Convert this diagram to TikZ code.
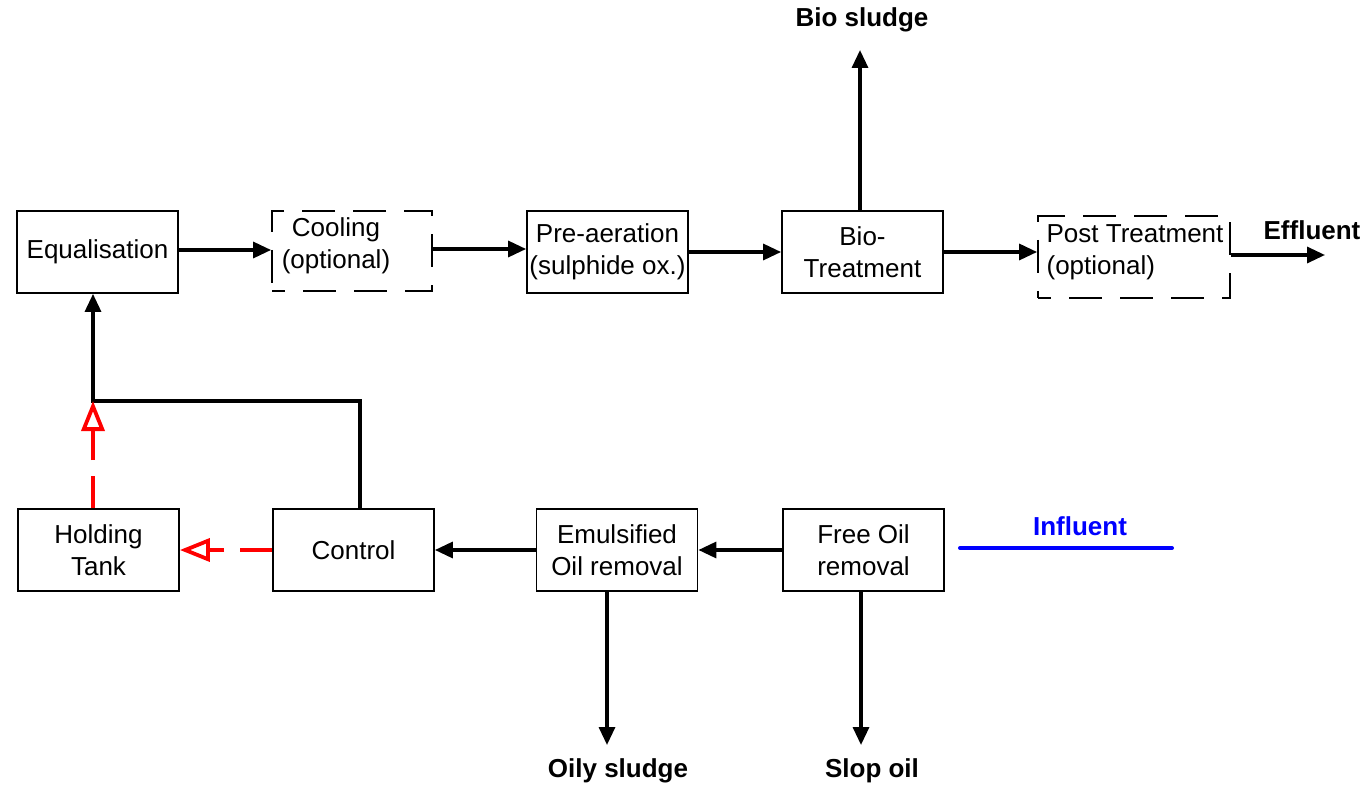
\documentclass[tikz,border=0pt]{standalone}
\usepackage{fontspec}
\setmainfont{Liberation Sans}
\usetikzlibrary{arrows.meta}
\begin{document}
\begin{tikzpicture}[x=1pt,y=-1pt,
 box/.style={draw, line width=1.8pt, minimum width=161pt, minimum height=82pt, inner sep=0pt, align=center, font=\fontsize{26}{32}\selectfont},
 dbox/.style={draw, line width=1.8pt, dash pattern=on 33pt off 18pt, dash phase=20pt, inner sep=0pt},
 flow/.style={line width=3.3pt, -{Triangle[length=18pt,width=16pt]}},
 redflow/.style={red, line width=3.8pt, dash pattern=on 32pt off 16pt, -{Triangle[open,length=30pt,width=23pt]}},
 lbl/.style={font=\bfseries\fontsize{26}{32}\selectfont},
 txt/.style={font=\fontsize{26}{32}\selectfont}]
\useasboundingbox (0,0) rectangle (1366,786);
% top row
\node[box] (eq) at (97.5,252) {Equalisation};
\node[dbox, minimum width=160pt, minimum height=80pt] (cool) at (352,251) {};
\node[txt, align=center] (cooltxt) at (336,246) {Cooling\\(optional)};
\node[box] (pre) at (607.5,252) {Pre-aeration\\(sulphide ox.)};
\node[box] (bio) at (862.5,252) {Bio-\\Treatment};
\node[dbox, minimum width=192pt, minimum height=82pt] (post) at (1134,257) {};
\node[txt, align=left] (posttxt) at (1135,252) {Post Treatment\\(optional)};
% bottom row
\node[box] (hold) at (98.5,550) {Holding\\Tank};
\node[box] (ctrl) at (353.5,550) {Control};
\node[box] (emul) at (617,550) {Emulsified\\Oil removal};
\node[box] (free) at (863.5,550) {Free Oil\\removal};
% labels
\node[lbl] (biosl) at (862,20) {Bio sludge};
\node[lbl] (eff) at (1312,230) {Effluent};
\node[lbl] (oily) at (618,771) {Oily sludge};
\node[lbl] (slop) at (872,771) {Slop oil};
\node[lbl, text=blue] (infl) at (1080,526) {Influent};
% coordinates
\coordinate (j) at (93,401);
\coordinate (k) at (360,401);
\coordinate (biotop) at (860,50);
\coordinate (effend) at (1325,255);
\coordinate (oilyend) at (607,745);
\coordinate (slopend) at (861,745);
\coordinate (infA) at (960,548);
\coordinate (infB) at (1172,548);
% top flows
\draw[flow] (eq.east |- 0,250) -- (cool.west |- 0,250);
\draw[flow] (cool.east |- 0,249) -- (pre.west |- 0,249);
\draw[flow] (pre.east) -- (bio.west);
\draw[flow] (bio.east) -- (bio.east -| post.west);
\draw[flow] (post.east |- effend) -- (effend);
\draw[flow] (bio.north -| biotop) -- (biotop);
% feedback
\draw[flow] (ctrl.north -| k) -- (k) -- (j) -- (eq.south -| j);
\draw[redflow] (hold.north -| j) -- (j);
\draw[redflow] (ctrl.west) -- (hold.east);
% bottom flows
\draw[flow] (emul.west) -- (ctrl.east);
\draw[flow] (free.west) -- (emul.east);
\draw[flow] (emul.south -| oilyend) -- (oilyend);
\draw[flow] (free.south -| slopend) -- (slopend);
\draw[blue, line width=4pt, line cap=round] (infA) -- (infB);
\end{tikzpicture}
\end{document}
